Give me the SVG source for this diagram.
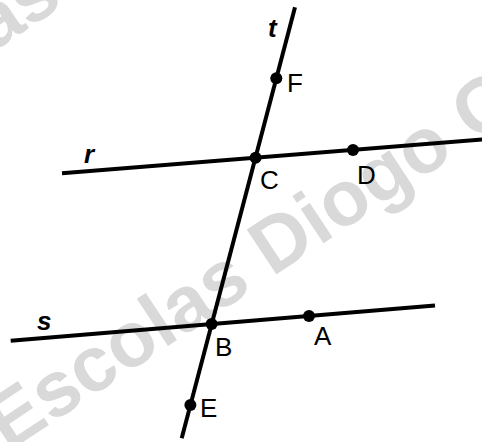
<svg xmlns="http://www.w3.org/2000/svg" width="482" height="442" viewBox="0 0 482 442">
<style>
.wm{font-family:"Liberation Sans",Arial,sans-serif;font-weight:bold;font-size:78px;fill:#d9d9d9}
.ln{stroke:#000;stroke-width:4;fill:none}
.pt{fill:#000}
.lbl{font-family:"Liberation Sans",Arial,sans-serif;font-size:26px;fill:#000}
.nm{font-family:"Liberation Sans",Arial,sans-serif;font-size:26px;font-weight:bold;font-style:italic;fill:#000}
</style>
<rect width="482" height="442" fill="#fff"/>
<g id="watermark">
<text class="wm" transform="translate(8,452) rotate(-33.5)">Escolas Diogo Cão</text>
<text class="wm" transform="translate(-181,167) rotate(-33.5)">Escolas Diogo Cão</text>
</g>
<g id="connectors">
<line id="line-t" class="ln" x1="295" y1="7.3" x2="181.7" y2="438.3"/>
<line id="line-r" class="ln" x1="62" y1="173.3" x2="484" y2="139.3"/>
<line id="line-s" class="ln" x1="10.7" y1="340.7" x2="435" y2="305.5"/>
</g>
<g id="label-t"><text class="nm" x="268" y="36.5">t</text></g>
<g id="label-r"><text class="nm" x="84" y="163">r</text></g>
<g id="label-s"><text class="nm" x="37" y="330">s</text></g>
<g id="point-F"><circle class="pt" cx="276.3" cy="78.3" r="6"/><text class="lbl" x="287" y="91.5">F</text></g>
<g id="point-C"><circle class="pt" cx="255.6" cy="157.7" r="6"/><text class="lbl" x="260" y="188.5">C</text></g>
<g id="point-D"><circle class="pt" cx="353" cy="150" r="6"/><text class="lbl" x="357" y="184">D</text></g>
<g id="point-B"><circle class="pt" cx="211.6" cy="324" r="6"/><text class="lbl" x="215" y="355.5">B</text></g>
<g id="point-A"><circle class="pt" cx="309" cy="316" r="6"/><text class="lbl" x="314" y="345">A</text></g>
<g id="point-E"><circle class="pt" cx="190.4" cy="405" r="6"/><text class="lbl" x="200" y="416.5">E</text></g>
</svg>
